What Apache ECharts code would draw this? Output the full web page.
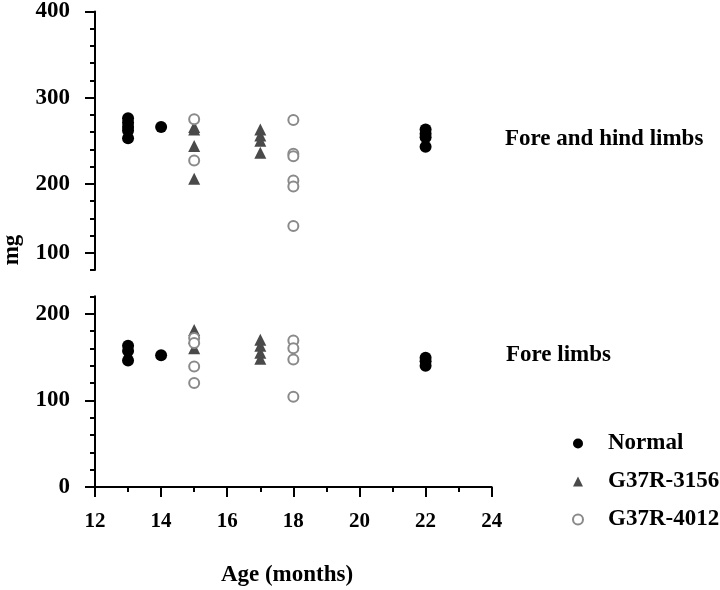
<!DOCTYPE html>
<html>
<head>
<meta charset="utf-8">
<script src="https://cdn.jsdelivr.net/npm/echarts@6/dist/echarts.min.js"></script>
<style>html,body{margin:0;padding:0;background:#fff;}#c{width:720px;height:590px;}</style>
</head>
<body>
<div id="c"></div>
<script>
// ---- data (age in months, mg) ----
const legendNames = ['Normal', 'G37R-3156', 'G37R-4012'];
const xTickLabels = [12, 14, 16, 18, 20, 22, 24];
const topTickValues = [120, 200, 300, 400];
const topTickLabels = ['100', '200', '300', '400'];
const bottomTickValues = [0, 100, 200];

// Fore and hind limbs (upper panel)
const normalTop = [[13,276],[13,271],[13,266],[13,262],[13,253],[14,266],[22,263],[22,258],[22,254],[22,243]];
const g3156Top = [[15,266],[15,263],[15,244],[15,206],[17,263],[17,256],[17,250],[17,236]];
const g4012Top = [[15,275],[15,227],[18,274],[18,235],[18,232],[18,204],[18,197],[18,151]];

// Fore limbs (lower panel)
const normalBottom = [[13,163],[13,157],[13,146],[14,152],[22,149],[22,145],[22,140]];
const g3156Bottom = [[15,181],[15,172],[15,160],[17,170],[17,163],[17,155],[17,148]];
const g4012Bottom = [[15,172],[15,166],[15,139],[15,120],[18,169],[18,160],[18,147],[18,104]];

const FONT = 'Liberation Serif';
const axisCol = '#000';
const lblStyle = { color: '#000', fontFamily: FONT, fontWeight: 'bold', fontSize: 23 };

const styles = {
  'Normal': { symbol: 'circle', symbolSize: 12, itemStyle: { color: '#000', opacity: 1 } },
  'G37R-3156': { symbol: 'triangle', symbolSize: 12, itemStyle: { color: '#4a4a4a', opacity: 1 } },
  'G37R-4012': { symbol: 'circle', symbolSize: 10, itemStyle: { color: '#fff', borderColor: '#8a8a8a', borderWidth: 2, opacity: 1 } }
};

function mk(name, data, xi, yi) {
  return Object.assign({ type: 'scatter', name: name, data: data, xAxisIndex: xi, yAxisIndex: yi, z: 3 }, JSON.parse(JSON.stringify(styles[name])));
}

const chart = echarts.init(document.getElementById('c'), null, { renderer: 'canvas' });
chart.setOption({
  animation: false,
  backgroundColor: '#fff',
  grid: [
    { left: 95, right: 228.3, top: 10, height: 260 },
    { left: 95, right: 228.3, top: 296.3, height: 190.7 }
  ],
  xAxis: [
    { gridIndex: 0, type: 'value', min: 12, max: 24, show: false },
    { gridIndex: 1, type: 'value', min: 12, max: 24, interval: 1, position: 'bottom',
      axisLine: { show: true, onZero: false, lineStyle: { color: axisCol, width: 2 } },
      axisTick: { show: true, length: 5, lineStyle: { color: axisCol, width: 2 } },
      axisLabel: { show: false }, splitLine: { show: false } },
    { gridIndex: 1, type: 'value', min: 12, max: 24, interval: 2, position: 'bottom',
      axisLine: { show: false, onZero: false },
      axisTick: { show: true, length: 10, lineStyle: { color: axisCol, width: 2 } },
      axisLabel: { show: true, margin: 24, color: '#000', fontFamily: FONT, fontWeight: 'bold', fontSize: 21,
        formatter: v => (xTickLabels.indexOf(v) >= 0 ? String(v) : '') },
      splitLine: { show: false } }
  ],
  yAxis: [
    { gridIndex: 0, type: 'value', min: 100, max: 400, interval: 20, position: 'left',
      axisLine: { show: true, onZero: false, lineStyle: { color: axisCol, width: 2 } },
      axisTick: { show: true, length: 5, lineStyle: { color: axisCol, width: 2 } },
      axisLabel: { show: false }, splitLine: { show: false } },
    { gridIndex: 0, type: 'value', min: 100, max: 400, position: 'left',
      axisLine: { show: false, onZero: false },
      axisTick: { show: true, length: 10, customValues: topTickValues, lineStyle: { color: axisCol, width: 2 } },
      axisLabel: Object.assign({ show: true, margin: 25, customValues: topTickValues,
        formatter: v => topTickLabels[topTickValues.indexOf(v)] }, lblStyle),
      splitLine: { show: false } },
    { gridIndex: 1, type: 'value', min: 0, max: 220, interval: 20, position: 'left',
      axisLine: { show: true, onZero: false, lineStyle: { color: axisCol, width: 2 } },
      axisTick: { show: true, length: 5, lineStyle: { color: axisCol, width: 2 } },
      axisLabel: { show: false }, splitLine: { show: false } },
    { gridIndex: 1, type: 'value', min: 0, max: 220, position: 'left',
      axisLine: { show: false, onZero: false },
      axisTick: { show: true, length: 10, customValues: bottomTickValues, lineStyle: { color: axisCol, width: 2 } },
      axisLabel: Object.assign({ show: true, margin: 25, customValues: bottomTickValues }, lblStyle),
      splitLine: { show: false } }
  ],
  legend: {
    data: legendNames,
    orient: 'vertical',
    left: 567, top: 427,
    itemWidth: 10, itemHeight: 10,
    itemGap: 15,
    textStyle: { color: '#000', fontFamily: FONT, fontWeight: 'bold', fontSize: 23, padding: [0, 0, 0, 20] }
  },
  graphic: [
    { type: 'text', left: 505, top: 128, style: { text: 'Fore and hind limbs', fill: '#000', font: 'bold 23px "Liberation Serif"' } },
    { type: 'text', left: 506, top: 344, style: { text: 'Fore limbs', fill: '#000', font: 'bold 23px "Liberation Serif"' } },
    { type: 'text', x: 287, y: 575, style: { text: 'Age (months)', fill: '#000', font: 'bold 23px "Liberation Serif"', align: 'center', verticalAlign: 'middle' } },
    { type: 'text', x: 12, y: 250, rotation: Math.PI / 2, style: { text: 'mg', fill: '#000', font: 'bold 23px "Liberation Serif"', align: 'center', verticalAlign: 'middle' } }
  ],
  series: [
    mk('Normal', normalTop, 0, 0),
    mk('G37R-3156', g3156Top, 0, 0),
    mk('G37R-4012', g4012Top, 0, 0),
    mk('Normal', normalBottom, 1, 2),
    mk('G37R-3156', g3156Bottom, 1, 2),
    mk('G37R-4012', g4012Bottom, 1, 2)
  ]
});
</script>
</body>
</html>
